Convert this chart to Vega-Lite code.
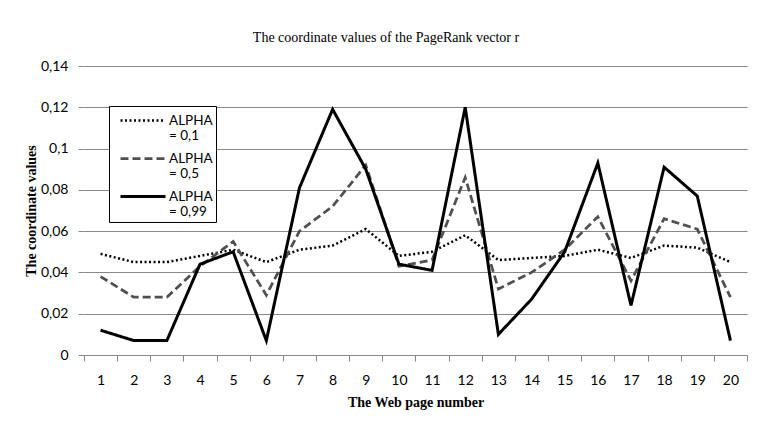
{
  "$schema": "https://vega.github.io/schema/vega-lite/v6.json",
  "width": 770,
  "height": 425,
  "autosize": {"type": "fit", "contains": "padding"},
  "padding": {"left": 24, "top": 31, "right": 22, "bottom": 16},
  "background": "white",
  "title": {
    "text": "The coordinate values of the PageRank vector r",
    "font": "Liberation Serif",
    "fontSize": 14,
    "fontWeight": "normal",
    "color": "black",
    "offset": 14,
    "frame": "bounds"
  },
  "data": {
    "values": [
      {"page": 1, "alpha": "ALPHA = 0,1", "value": 0.049},
      {"page": 2, "alpha": "ALPHA = 0,1", "value": 0.045},
      {"page": 3, "alpha": "ALPHA = 0,1", "value": 0.045},
      {"page": 4, "alpha": "ALPHA = 0,1", "value": 0.048},
      {"page": 5, "alpha": "ALPHA = 0,1", "value": 0.051},
      {"page": 6, "alpha": "ALPHA = 0,1", "value": 0.045},
      {"page": 7, "alpha": "ALPHA = 0,1", "value": 0.051},
      {"page": 8, "alpha": "ALPHA = 0,1", "value": 0.053},
      {"page": 9, "alpha": "ALPHA = 0,1", "value": 0.061},
      {"page": 10, "alpha": "ALPHA = 0,1", "value": 0.048},
      {"page": 11, "alpha": "ALPHA = 0,1", "value": 0.050},
      {"page": 12, "alpha": "ALPHA = 0,1", "value": 0.058},
      {"page": 13, "alpha": "ALPHA = 0,1", "value": 0.046},
      {"page": 14, "alpha": "ALPHA = 0,1", "value": 0.047},
      {"page": 15, "alpha": "ALPHA = 0,1", "value": 0.048},
      {"page": 16, "alpha": "ALPHA = 0,1", "value": 0.051},
      {"page": 17, "alpha": "ALPHA = 0,1", "value": 0.047},
      {"page": 18, "alpha": "ALPHA = 0,1", "value": 0.053},
      {"page": 19, "alpha": "ALPHA = 0,1", "value": 0.052},
      {"page": 20, "alpha": "ALPHA = 0,1", "value": 0.045},
      {"page": 1, "alpha": "ALPHA = 0,5", "value": 0.038},
      {"page": 2, "alpha": "ALPHA = 0,5", "value": 0.028},
      {"page": 3, "alpha": "ALPHA = 0,5", "value": 0.028},
      {"page": 4, "alpha": "ALPHA = 0,5", "value": 0.043},
      {"page": 5, "alpha": "ALPHA = 0,5", "value": 0.055},
      {"page": 6, "alpha": "ALPHA = 0,5", "value": 0.029},
      {"page": 7, "alpha": "ALPHA = 0,5", "value": 0.060},
      {"page": 8, "alpha": "ALPHA = 0,5", "value": 0.072},
      {"page": 9, "alpha": "ALPHA = 0,5", "value": 0.092},
      {"page": 10, "alpha": "ALPHA = 0,5", "value": 0.043},
      {"page": 11, "alpha": "ALPHA = 0,5", "value": 0.046},
      {"page": 12, "alpha": "ALPHA = 0,5", "value": 0.086},
      {"page": 13, "alpha": "ALPHA = 0,5", "value": 0.032},
      {"page": 14, "alpha": "ALPHA = 0,5", "value": 0.040},
      {"page": 15, "alpha": "ALPHA = 0,5", "value": 0.051},
      {"page": 16, "alpha": "ALPHA = 0,5", "value": 0.067},
      {"page": 17, "alpha": "ALPHA = 0,5", "value": 0.036},
      {"page": 18, "alpha": "ALPHA = 0,5", "value": 0.066},
      {"page": 19, "alpha": "ALPHA = 0,5", "value": 0.061},
      {"page": 20, "alpha": "ALPHA = 0,5", "value": 0.028},
      {"page": 1, "alpha": "ALPHA = 0,99", "value": 0.012},
      {"page": 2, "alpha": "ALPHA = 0,99", "value": 0.007},
      {"page": 3, "alpha": "ALPHA = 0,99", "value": 0.007},
      {"page": 4, "alpha": "ALPHA = 0,99", "value": 0.044},
      {"page": 5, "alpha": "ALPHA = 0,99", "value": 0.050},
      {"page": 6, "alpha": "ALPHA = 0,99", "value": 0.007},
      {"page": 7, "alpha": "ALPHA = 0,99", "value": 0.081},
      {"page": 8, "alpha": "ALPHA = 0,99", "value": 0.119},
      {"page": 9, "alpha": "ALPHA = 0,99", "value": 0.090},
      {"page": 10, "alpha": "ALPHA = 0,99", "value": 0.044},
      {"page": 11, "alpha": "ALPHA = 0,99", "value": 0.041},
      {"page": 12, "alpha": "ALPHA = 0,99", "value": 0.120},
      {"page": 13, "alpha": "ALPHA = 0,99", "value": 0.010},
      {"page": 14, "alpha": "ALPHA = 0,99", "value": 0.027},
      {"page": 15, "alpha": "ALPHA = 0,99", "value": 0.050},
      {"page": 16, "alpha": "ALPHA = 0,99", "value": 0.093},
      {"page": 17, "alpha": "ALPHA = 0,99", "value": 0.024},
      {"page": 18, "alpha": "ALPHA = 0,99", "value": 0.091},
      {"page": 19, "alpha": "ALPHA = 0,99", "value": 0.077},
      {"page": 20, "alpha": "ALPHA = 0,99", "value": 0.007}
    ]
  },
  "mark": {"type": "line", "strokeCap": "butt"},
  "encoding": {
    "x": {
      "field": "page",
      "type": "ordinal",
      "title": "The Web page number",
      "axis": {
        "labelAngle": 0,
        "labelFont": "Lato",
        "labelFontSize": 14,
        "labelColor": "black",
        "labelPadding": 12,
        "titleFont": "Liberation Serif",
        "titleFontSize": 14,
        "titleFontWeight": "bold",
        "titleColor": "black",
        "titlePadding": 8,
        "tickBand": "extent",
        "tickSize": 6,
        "tickColor": "#888",
        "domainColor": "#888",
        "grid": false
      }
    },
    "y": {
      "field": "value",
      "type": "quantitative",
      "title": "The coordinate values",
      "scale": {"domain": [0, 0.14]},
      "axis": {
        "values": [0, 0.02, 0.04, 0.06, 0.08, 0.1, 0.12, 0.14],
        "labelExpr": "replace(format(datum.value, '.2~f'), '.', ',')",
        "labelFont": "Lato",
        "labelFontSize": 14,
        "labelColor": "black",
        "labelPadding": 10,
        "titleFont": "Liberation Serif",
        "titleFontSize": 14,
        "titleFontWeight": "bold",
        "titleColor": "black",
        "titlePadding": 2,
        "domain": false,
        "tickSize": 6,
        "tickColor": "#888",
        "gridColor": "#888",
        "gridWidth": 1
      }
    },
    "color": {
      "field": "alpha",
      "type": "nominal",
      "title": null,
      "scale": {"range": ["black", "#505050", "black"]},
      "legend": {
        "orient": "none",
        "legendX": 25,
        "legendY": 40,
        "strokeColor": "black",
        "padding": 3,
        "fillColor": "white",
        "labelExpr": "['ALPHA', substring(datum.label, 6)]",
        "labelFont": "Lato",
        "labelFontSize": 13.5,
        "labelColor": "black",
        "labelBaseline": "middle",
        "symbolType": "M-2.25,0H2.25",
        "symbolSize": 400,
        "symbolOffset": 19.5,
        "rowPadding": 4,
        "labelOffset": 14.5
      }
    },
    "strokeDash": {
      "field": "alpha",
      "type": "nominal",
      "title": null,
      "scale": {"range": [[2, 2.5], [8, 4], [1, 0]]}
    },
    "strokeWidth": {
      "field": "alpha",
      "type": "nominal",
      "title": null,
      "scale": {"range": [2.5, 3, 3]}
    }
  },
  "config": {
    "view": {"stroke": null}
  }
}
